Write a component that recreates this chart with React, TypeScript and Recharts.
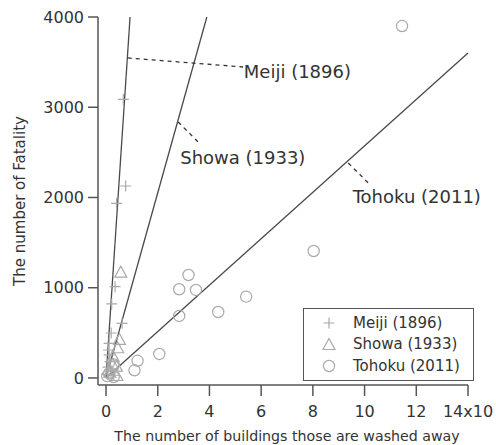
import React from "react";
import {
  ScatterChart,
  Scatter,
  XAxis,
  YAxis,
  ReferenceLine,
  ReferenceDot,
  Legend,
  Label,
} from "recharts";

// points (x in units of 10^3 buildings)
const meiji = [
  { x: 0.67, y: 3088 },
  { x: 0.76, y: 2127 },
  { x: 0.41, y: 1935 },
  { x: 0.35, y: 1012 },
  { x: 0.22, y: 820 },
  { x: 0.62, y: 606 },
  { x: 0.2, y: 498 },
  { x: 0.12, y: 384 },
  { x: 0.1, y: 310 },
  { x: 0.12, y: 255 },
  { x: 0.15, y: 180 },
  { x: 0.08, y: 120 },
  { x: 0.2, y: 80 },
  { x: 0.05, y: 40 },
  { x: 0.3, y: 30 },
];
const showa = [
  { x: 0.57, y: 1167 },
  { x: 0.52, y: 421 },
  { x: 0.45, y: 329 },
  { x: 0.27, y: 236 },
  { x: 0.4, y: 125 },
  { x: 0.42, y: 22 },
  { x: 0.15, y: 60 },
  { x: 0.25, y: 150 },
];
const tohoku = [
  { x: 11.45, y: 3900 },
  { x: 8.03, y: 1407 },
  { x: 3.19, y: 1141 },
  { x: 2.83, y: 983 },
  { x: 3.48, y: 975 },
  { x: 5.42, y: 901 },
  { x: 4.34, y: 731 },
  { x: 2.83, y: 687 },
  { x: 2.06, y: 266 },
  { x: 1.22, y: 190 },
  { x: 1.1, y: 85 },
  { x: 0.3, y: 150 },
  { x: 0.05, y: 20 },
  { x: 0.12, y: 50 },
  { x: 0.3, y: 10 },
];

// fitted lines through the origin, end points
const fitEnds = [
  { name: "Meiji", x: 0.93, y: 4000 },
  { name: "Showa", x: 3.9, y: 4000 },
  { name: "Tohoku", x: 14, y: 3600 },
];

// dashed leaders and their labels
const notes = [
  { text: "Meiji (1896)", from: { x: 0.84, y: 3546 }, to: { x: 5.3, y: 3446 }, at: { x: 5.33, y: 3390 } },
  { text: "Showa (1933)", from: { x: 2.79, y: 2837 }, to: { x: 3.56, y: 2615 }, at: { x: 2.87, y: 2438 } },
  { text: "Tohoku (2011)", from: { x: 9.37, y: 2382 }, to: { x: 10.14, y: 2161 }, at: { x: 9.54, y: 2006 } },
];

const xTicks = [0, 2, 4, 6, 8, 10, 12, 14];
const yTicks = [0, 1000, 2000, 3000, 4000];

const FONT = "'DejaVu Sans', sans-serif";
const MARK = "#a9a9a9";
const INK = "#333";
const AXIS = "#555";

const Plus = ({ cx, cy }: any) => (
  <path d={`M${cx - 5.5},${cy}H${cx + 5.5}M${cx},${cy - 5.5}V${cy + 5.5}`} stroke={MARK} strokeWidth={1.2} fill="none" />
);
const Tri = ({ cx, cy }: any) => (
  <path d={`M${cx},${cy - 6.5}L${cx + 6},${cy + 4.5}L${cx - 6},${cy + 4.5}Z`} stroke={MARK} strokeWidth={1.2} fill="none" />
);
const Ring = ({ cx, cy }: any) => (
  <circle cx={cx} cy={cy} r={5.6} stroke={MARK} strokeWidth={1.2} fill="none" />
);

const legendItems = [
  { label: "Meiji (1896)", icon: "plus" },
  { label: "Showa (1933)", icon: "tri" },
  { label: "Tohoku (2011)", icon: "ring" },
];

const LegendBox = () => (
  <div
    style={{
      border: `1.5px solid ${AXIS}`,
      background: "#fff",
      padding: "3px 0 3px 0",
      fontFamily: FONT,
      fontSize: 15,
      color: INK,
      width: 171,
      boxSizing: "border-box",
    }}
  >
    {legendItems.map((it) => (
      <div key={it.label} style={{ display: "flex", alignItems: "center", height: 21.5 }}>
        <svg width={49} height={16}>
          {it.icon === "plus" && <Plus cx={25} cy={8} />}
          {it.icon === "tri" && <Tri cx={25} cy={9} />}
          {it.icon === "ring" && <Ring cx={25} cy={8} />}
        </svg>
        <span>{it.label}</span>
      </div>
    ))}
  </div>
);

const YTitle = (props: any) => {
  const vb = props.viewBox || { x: 0, y: 17, width: 98, height: 368 };
  const cx = vb.x + 20;
  const cy = vb.y + vb.height / 2;
  return (
    <text
      x={cx}
      y={cy}
      transform={`rotate(-90 ${cx} ${cy})`}
      textAnchor="middle"
      dominantBaseline="central"
      fill={INK}
      fontSize={15}
      fontFamily={FONT}
    >
      The number of Fatality
    </text>
  );
};

export default function App() {
  return (
    <div style={{ position: "absolute", left: 0, top: 0, background: "#fff" }}>
      <ScatterChart
        width={496}
        height={445}
        margin={{ top: 17, right: 28, bottom: 0, left: 0 }}
        style={{ fontFamily: FONT }}
      >
        <XAxis
          type="number"
          dataKey="x"
          domain={[-0.31, 14]}
          ticks={xTicks}
          allowDataOverflow
          height={60}
          tickSize={11}
          tickMargin={10}
          stroke={AXIS}
          strokeWidth={1.5}
          tick={{ fill: INK, fontSize: 16 }}
          tickFormatter={(v: number) => (v === 14 ? "14x10" : String(v))}
        >
          <Label
            value="The number of buildings those are washed away"
            position="insideBottom"
            offset={4}
            dx={4}
            style={{ fill: INK, fontSize: 14.2 }}
          />
        </XAxis>
        <YAxis
          type="number"
          dataKey="y"
          domain={[-78, 4000]}
          ticks={yTicks}
          allowDataOverflow
          width={98}
          tickSize={10}
          tickMargin={4}
          stroke={AXIS}
          strokeWidth={1.5}
          tick={{ fill: INK, fontSize: 16 }}
        >
          <Label content={<YTitle />} />
        </YAxis>
        {fitEnds.map((f) => (
          <ReferenceLine
            key={f.name}
            segment={[{ x: 0, y: 0 }, { x: f.x, y: f.y }]}
            stroke="#4a4a4a"
            strokeWidth={1.3}
            ifOverflow="visible"
          />
        ))}
        {notes.map((n) => (
          <ReferenceLine
            key={n.text + "-lead"}
            segment={[n.from, n.to]}
            stroke={INK}
            strokeWidth={1.3}
            strokeDasharray="4 4"
            ifOverflow="visible"
          />
        ))}
        {notes.map((n) => (
          <ReferenceDot
            key={n.text}
            x={n.at.x}
            y={n.at.y}
            r={0}
            fill="none"
            stroke="none"
            ifOverflow="visible"
            label={{ value: n.text, position: "right", offset: 0, fill: INK, fontSize: 18 }}
          />
        ))}
        <Scatter name="Meiji (1896)" data={meiji} shape={<Plus />} isAnimationActive={false} />
        <Scatter name="Showa (1933)" data={showa} shape={<Tri />} isAnimationActive={false} />
        <Scatter name="Tohoku (2011)" data={tohoku} shape={<Ring />} isAnimationActive={false} />
        <Legend
          layout="vertical"
          align="center"
          verticalAlign="middle"
          content={() => <LegendBox />}
          wrapperStyle={{ position: "absolute", left: 303, top: 308, width: 171 }}
        />
      </ScatterChart>
    </div>
  );
}
